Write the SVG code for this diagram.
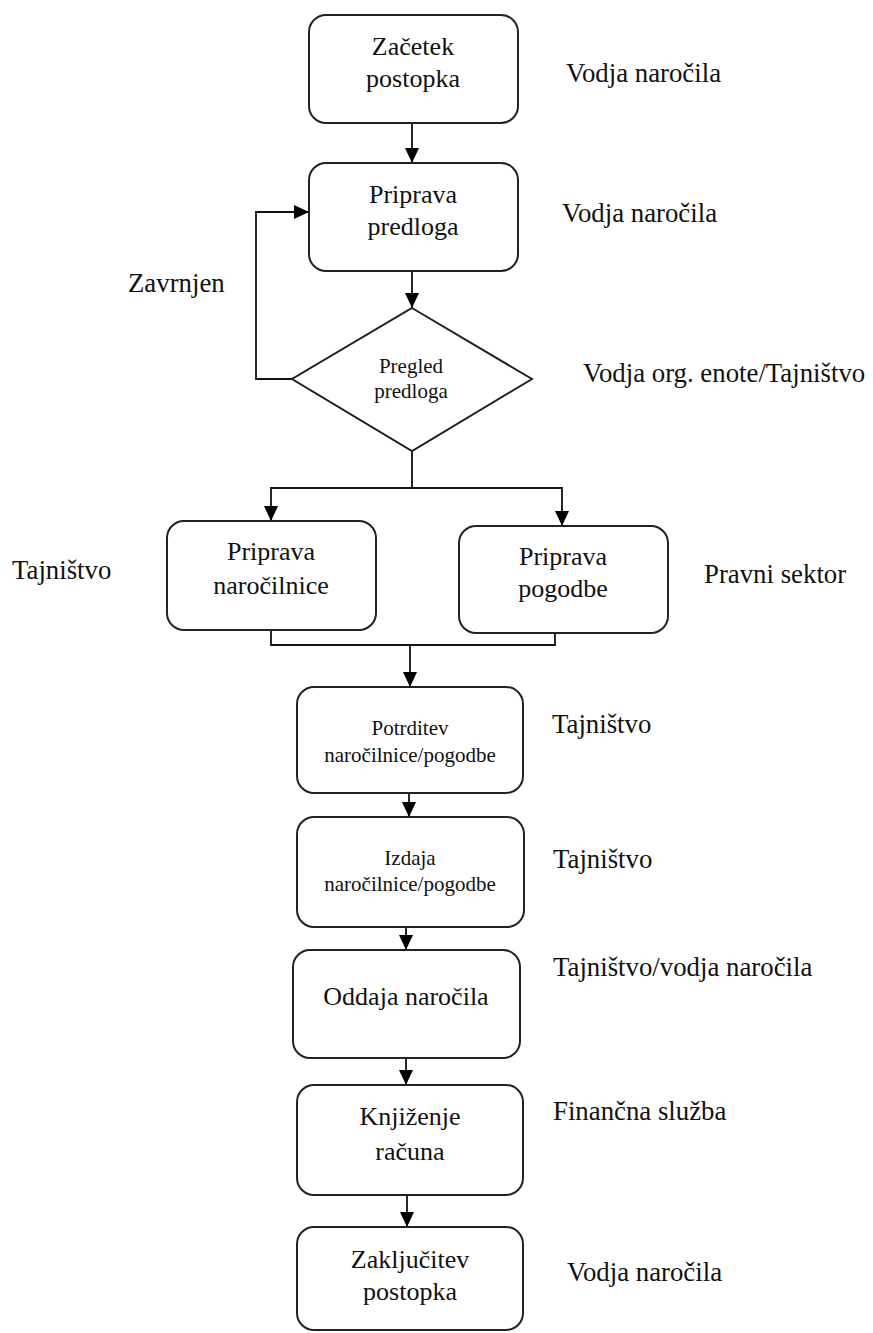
<svg xmlns="http://www.w3.org/2000/svg" width="873" height="1333" viewBox="0 0 873 1333">
  <defs>
    <marker id="arrow" markerUnits="userSpaceOnUse" markerWidth="15" markerHeight="14" refX="15" refY="7" orient="auto">
      <path d="M0,0 L15,7 L0,14 z" fill="#000"/>
    </marker>
    <style>
      .box { fill: #fff; stroke: #222; stroke-width: 2; }
      .edge { fill: none; stroke: #111; stroke-width: 1.8; }
      text { font-size: 26px; fill: #111; }
      .mid { text-anchor: middle; }
      .sm { font-size: 21px; }
      .role { font-size: 26.8px; }
    </style>
  </defs>
  <rect width="873" height="1333" fill="#fff"/>

  <!-- connectors -->
  <g id="connectors">
    <line class="edge" x1="412" y1="123" x2="412" y2="163" marker-end="url(#arrow)"/>
    <line class="edge" x1="412" y1="271" x2="412" y2="308" marker-end="url(#arrow)"/>
    <polyline class="edge" points="292,379 256,379 256,212 309,212" marker-end="url(#arrow)"/>
    <polyline class="edge" points="412,451 412,488 271,488 271,521" marker-end="url(#arrow)"/>
    <polyline class="edge" points="412,488 562,488 562,526" marker-end="url(#arrow)"/>
    <polyline class="edge" points="271,630 271,645 555,645 555,633"/>
    <line class="edge" x1="410" y1="645" x2="410" y2="687" marker-end="url(#arrow)"/>
    <line class="edge" x1="409" y1="793" x2="409" y2="817" marker-end="url(#arrow)"/>
    <line class="edge" x1="406" y1="927" x2="406" y2="950" marker-end="url(#arrow)"/>
    <line class="edge" x1="406" y1="1058" x2="406" y2="1085" marker-end="url(#arrow)"/>
    <line class="edge" x1="407" y1="1195" x2="407" y2="1227" marker-end="url(#arrow)"/>
  </g>

  <g font-family="'Liberation Serif', 'Times New Roman', 'DejaVu Serif', serif">
  <!-- process nodes -->
  <g id="zacetek">
    <rect class="box" x="309" y="15" width="209" height="108" rx="17"/>
    <text class="mid" x="413" y="55">Začetek</text>
    <text class="mid" x="413" y="87">postopka</text>
  </g>
  <g id="priprava-predloga">
    <rect class="box" x="309" y="163" width="209" height="108" rx="17"/>
    <text class="mid" x="413" y="203">Priprava</text>
    <text class="mid" x="413" y="235">predloga</text>
  </g>
  <g id="pregled-predloga">
    <polygon class="box" points="412,308 532,379 412,451 292,379"/>
    <text class="sm mid" x="411" y="373">Pregled</text>
    <text class="sm mid" x="411" y="398">predloga</text>
  </g>
  <g id="priprava-narocilnice">
    <rect class="box" x="167" y="521" width="209" height="109" rx="17"/>
    <text class="mid" x="271" y="560">Priprava</text>
    <text class="mid" x="271" y="594">naročilnice</text>
  </g>
  <g id="priprava-pogodbe">
    <rect class="box" x="459" y="526" width="209" height="107" rx="17"/>
    <text class="mid" x="563" y="565">Priprava</text>
    <text class="mid" x="563" y="597">pogodbe</text>
  </g>
  <g id="potrditev">
    <rect class="box" x="297" y="687" width="226" height="106" rx="17"/>
    <text class="sm mid" x="410" y="735">Potrditev</text>
    <text class="sm mid" x="410" y="762">naročilnice/pogodbe</text>
  </g>
  <g id="izdaja">
    <rect class="box" x="297" y="817" width="227" height="110" rx="17"/>
    <text class="sm mid" x="410" y="865">Izdaja</text>
    <text class="sm mid" x="410" y="891">naročilnice/pogodbe</text>
  </g>
  <g id="oddaja">
    <rect class="box" x="293" y="950" width="227" height="108" rx="17"/>
    <text class="mid" x="406" y="1005">Oddaja naročila</text>
  </g>
  <g id="knjizenje">
    <rect class="box" x="297" y="1085" width="226" height="110" rx="17"/>
    <text class="mid" x="410" y="1125">Knjiženje</text>
    <text class="mid" x="410" y="1160">računa</text>
  </g>
  <g id="zakljucitev">
    <rect class="box" x="297" y="1227" width="226" height="103" rx="17"/>
    <text class="mid" x="410" y="1268">Zaključitev</text>
    <text class="mid" x="410" y="1300">postopka</text>
  </g>

  <!-- role labels -->
  <g id="roles">
    <text class="role" x="566" y="82">Vodja naročila</text>
    <text class="role" x="562" y="222">Vodja naročila</text>
    <text class="role" x="128" y="292">Zavrnjen</text>
    <text class="role" x="583" y="382">Vodja org. enote/Tajništvo</text>
    <text class="role" x="12" y="579">Tajništvo</text>
    <text class="role" x="704" y="583">Pravni sektor</text>
    <text class="role" x="552" y="733">Tajništvo</text>
    <text class="role" x="553" y="868">Tajništvo</text>
    <text class="role" x="553" y="976">Tajništvo/vodja naročila</text>
    <text class="role" x="553" y="1120">Finančna služba</text>
    <text class="role" x="567" y="1281">Vodja naročila</text>
  </g>
  </g>
</svg>
